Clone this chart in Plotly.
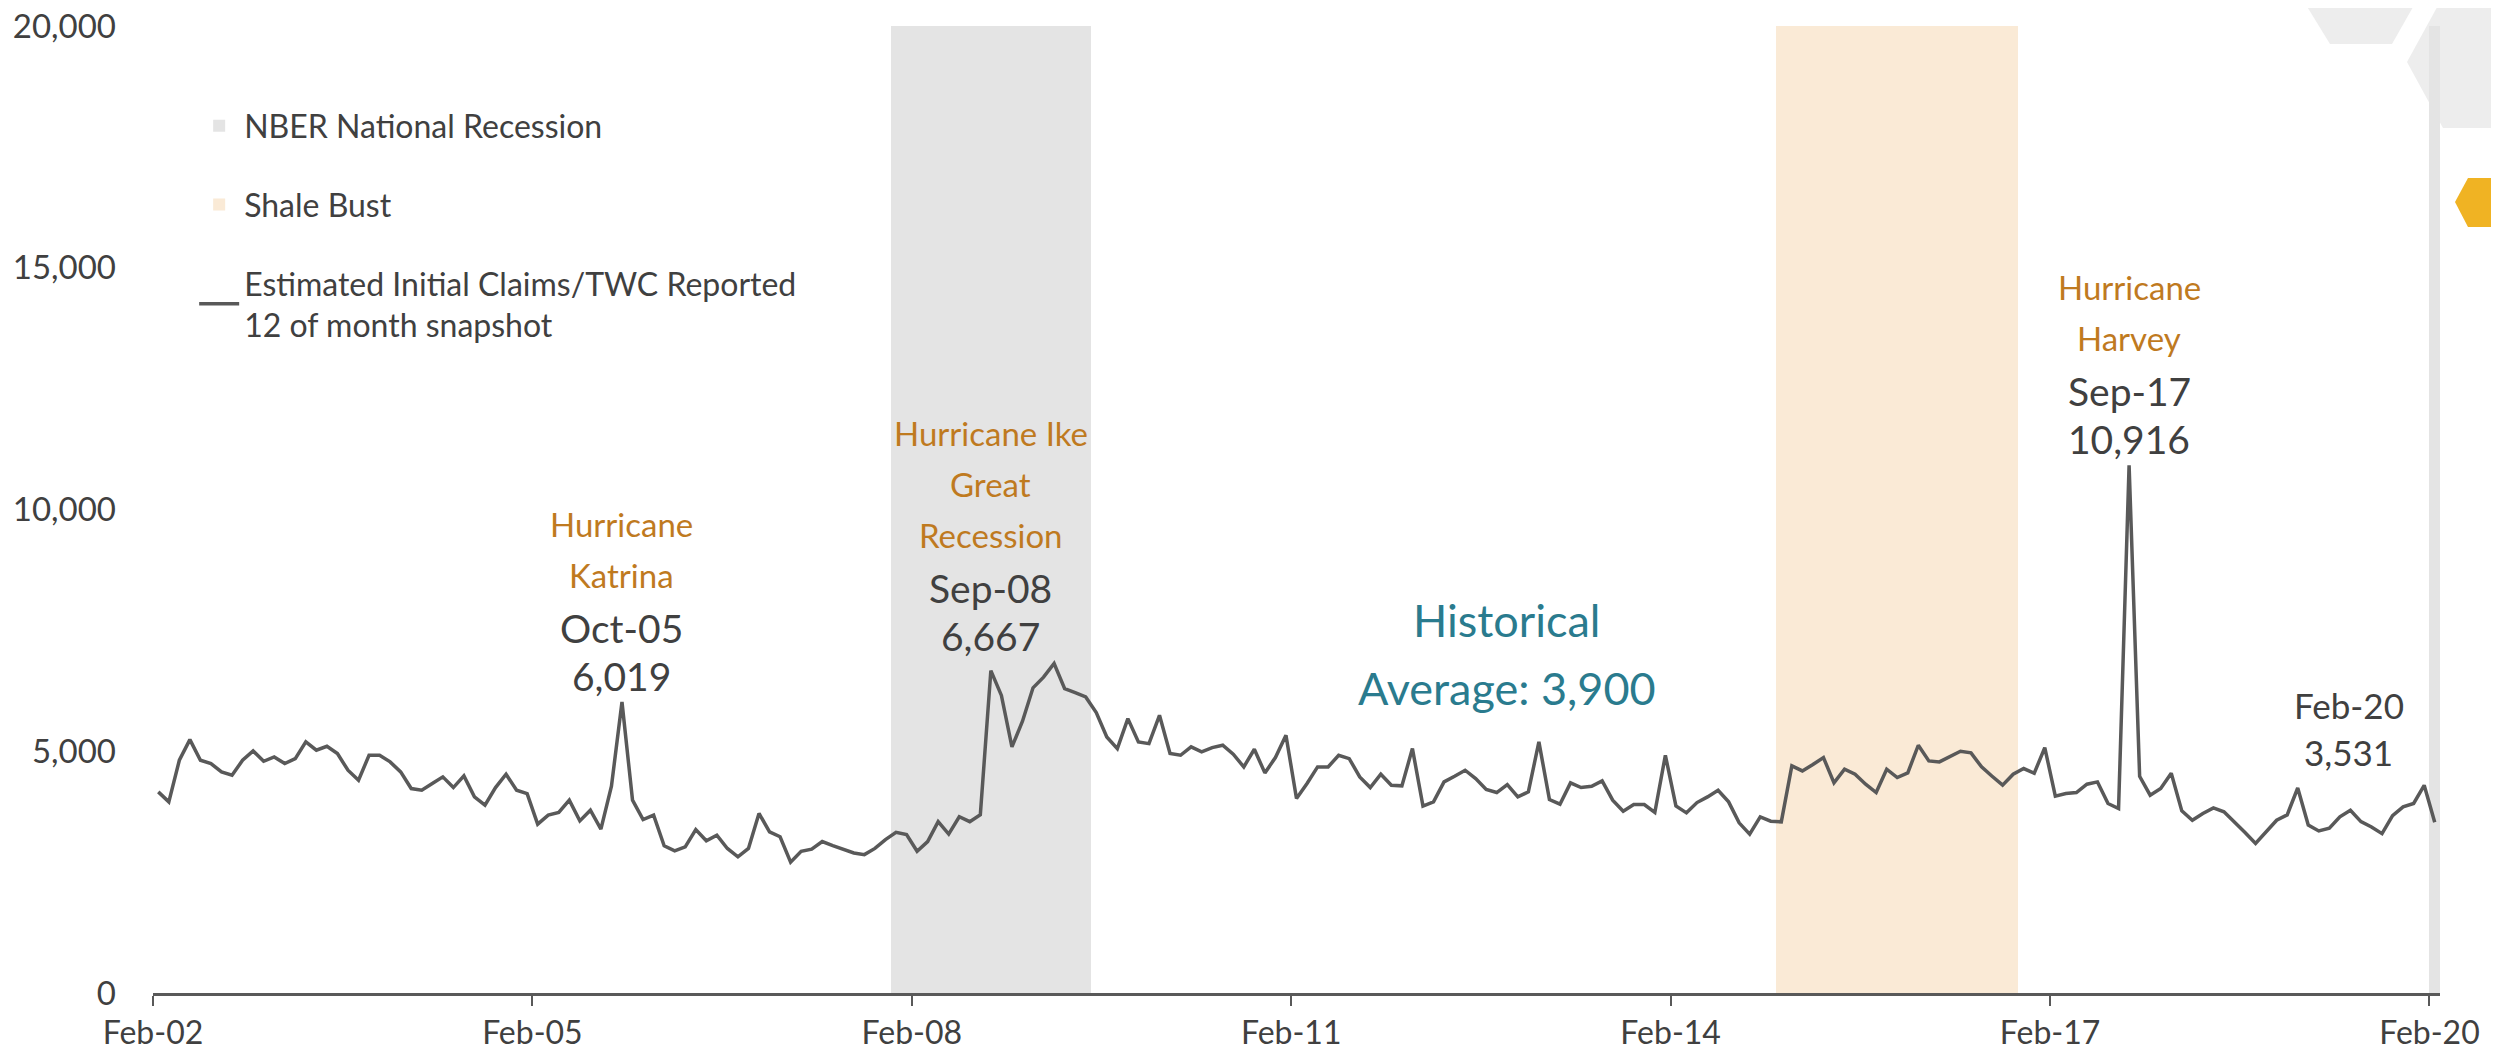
import pandas as pd
import plotly.graph_objects as go

# ---------------- data ----------------
months = pd.date_range("2002-02-01", "2020-02-01", freq="MS")
month_labels = [d.strftime("%b-%y") for d in months]

claims = [
    4160, 3953, 4814, 5241, 4814, 4745, 4573, 4504, 4814, 5007, 4793, 4883,
    4745, 4848, 5193, 5021, 5103, 4952, 4607, 4401, 4917, 4917, 4780, 4573,
    4229, 4194, 4332, 4470, 4249, 4490, 4056, 3884, 4249, 4525, 4194, 4125,
    3492, 3678, 3733, 3988, 3560, 3781, 3388, 4277, 6019, 3988, 3588, 3678,
    3044, 2941, 3024, 3381, 3148, 3264, 2989, 2817, 2989, 3715, 3331, 3231,
    2705, 2932, 2975, 3132, 3046, 2975, 2897, 2862, 2990, 3174, 3324, 3275,
    2932, 3132, 3544, 3287, 3645, 3544, 3686, 6667, 6155, 5089, 5622, 6312,
    6533, 6816, 6295, 6212, 6123, 5799, 5296, 5055, 5675, 5193, 5158, 5744,
    4952, 4917, 5090, 4986, 5076, 5124, 4938, 4676, 5041, 4552, 4869, 5331,
    4022, 4332, 4676, 4676, 4917, 4848, 4470, 4249, 4525, 4298, 4284, 5055,
    3864, 3953, 4366, 4483, 4607, 4435, 4208, 4146, 4311, 4056, 4160, 5193,
    4001, 3905, 4346, 4249, 4277, 4387, 3988, 3760, 3898, 3898, 3733, 4917,
    3870, 3726, 3939, 4056, 4194, 3953, 3519, 3285, 3643, 3554, 3540, 4697,
    4593, 4725, 4869, 4346, 4628, 4525, 4318, 4146, 4628, 4456, 4552, 5124,
    4800, 4780, 4883, 5000, 4966, 4676, 4483, 4298, 4525, 4642, 4545, 5076,
    4070, 4125, 4146, 4318, 4366, 3919, 3815, 10916, 4483, 4091, 4229, 4545,
    3767, 3574, 3712, 3829, 3747, 3540, 3320, 3092, 3323, 3573, 3684, 4240,
    3475, 3351, 3407, 3643, 3781, 3545, 3434, 3296, 3669, 3851, 3921, 4295,
    3531,
]

nber_periods = [("Dec-07", "Jun-09"), ("Feb-20", "Feb-20")]
shale_periods = [("Dec-14", "Oct-16")]
tick_labels = ["Feb-02", "Feb-05", "Feb-08", "Feb-11", "Feb-14", "Feb-17", "Feb-20"]
y_ticks = [0, 5000, 10000, 15000, 20000]
y_max = 20000

callouts = [
    ("Oct-05", ["Hurricane", "Katrina"]),
    ("Sep-08", ["Hurricane Ike", "Great", "Recession"]),
    ("Sep-17", ["Hurricane", "Harvey"]),
]
last_label = "Feb-20"
avg_text = ["Historical", "Average: 3,900"]

# ---------------- styling ----------------
FONT = "Lato"
DARK = "#404040"
LINE = "#595959"
ORANGE = "#BF7A1F"
TEAL = "#2A7B8E"
GRAY_BAND = "#E4E4E4"
SHALE_BAND = "#FAEAD6"

# the page body has an 8px default margin; size the figure to fit the window
PAGE_OFF = 8
WIN_W, WIN_H = 2499, 1054
L, W, T, H = 153, 2287, 26, 967          # plot area in window pixels
FIG_W, FIG_H = WIN_W - PAGE_OFF, WIN_H - PAGE_OFF
extra_lift = {"Sep-08": 9}               # label placement tweak (pixels)

idx = {lab: i for i, lab in enumerate(month_labels)}
x = list(range(len(month_labels)))


def expand(periods):
    out = []
    for a, b in periods:
        out.extend(range(idx[a], idx[b] + 1))
    return out


nber_x = expand(nber_periods)
shale_x = expand(shale_periods)

fig = go.Figure()
fig.add_trace(go.Bar(
    x=nber_x, y=[y_max] * len(nber_x), width=1.0,
    marker=dict(color=GRAY_BAND, line=dict(width=0)),
    name="NBER National Recession", legendgroup="a",
))
fig.add_trace(go.Bar(
    x=shale_x, y=[y_max] * len(shale_x), width=1.0,
    marker=dict(color=SHALE_BAND, line=dict(width=0)),
    name="Shale Bust", legendgroup="b",
))
fig.add_trace(go.Scatter(
    x=x, y=claims, mode="lines",
    line=dict(color=LINE, width=3.5),
    name="Estimated Initial Claims/TWC Reported<br>12 of month snapshot",
    legendgroup="c",
))


def add_line(i, text, shift, color, size, xshift=0):
    fig.add_annotation(
        x=i, y=claims[i], xref="x", yref="y", text=text, showarrow=False,
        xanchor="center", yanchor="middle", yshift=shift, xshift=xshift,
        font=dict(family=FONT, size=size, color=color),
    )


# peak callouts: value, date, then orange caption lines stacked above
for lab, title_lines in callouts:
    i = idx[lab]
    base = extra_lift.get(lab, 0)
    add_line(i, f"{claims[i]:,}", base + 26, DARK, 39)
    add_line(i, lab, base + 74, DARK, 39)
    for k, t in enumerate(reversed(title_lines)):
        add_line(i, t, base + 127 + 51 * k, ORANGE, 33)

# latest value callout
i_last = idx[last_label]
add_line(i_last, f"{claims[i_last]:,}", 70, DARK, 35, xshift=-86)
add_line(i_last, last_label, 117, DARK, 35, xshift=-86)

# historical average text
for k, t in enumerate(avg_text):
    fig.add_annotation(
        x=0.592, y=0.386 - 0.071 * k, xref="paper", yref="paper",
        text=t, showarrow=False, xanchor="center", yanchor="middle",
        font=dict(family=FONT, size=45, color=TEAL),
    )


# decorative slide shapes (top right), window pixel -> paper helpers
def px(p):
    return (p - L) / W


def py(p):
    return 1 - (p - T) / H


def poly(points):
    return "M " + " L ".join(f"{px(a):.5f},{py(b):.5f}" for a, b in points) + " Z"


fig.add_shape(type="path", xref="paper", yref="paper", layer="below",
              path=poly([(2303, 0), (2417, 0), (2392, 44), (2330, 44)]),
              fillcolor="#EDEDED", line=dict(width=0))
fig.add_shape(type="path", xref="paper", yref="paper", layer="below",
              path=poly([(2441, 0), (2499, 0), (2499, 128), (2443, 128), (2407, 62)]),
              fillcolor="#EDEDED", line=dict(width=0))
fig.add_shape(type="path", xref="paper", yref="paper", layer="above",
              path=poly([(2455, 202), (2468, 178), (2499, 178), (2499, 227), (2468, 227)]),
              fillcolor="#F0B323", line=dict(width=0))

tickvals = [idx[t] - 0.5 for t in tick_labels]

fig.update_layout(
    width=FIG_W, height=FIG_H,
    margin=dict(l=L - PAGE_OFF, r=WIN_W - L - W, t=T - PAGE_OFF,
                b=WIN_H - T - H, autoexpand=False),
    paper_bgcolor="white", plot_bgcolor="rgba(0,0,0,0)",
    bargap=0, barmode="overlay",
    font=dict(family=FONT, size=30, color=DARK),
    showlegend=True,
    legend=dict(
        x=0.018, y=0.925, xanchor="left", yanchor="top",
        bgcolor="rgba(0,0,0,0)", font=dict(family=FONT, size=32, color=DARK),
        traceorder="grouped", tracegroupgap=34, itemwidth=40,
    ),
    xaxis=dict(
        range=[-0.5, len(x) - 0.5], automargin=False,
        tickmode="array", tickvals=tickvals, ticktext=tick_labels,
        showgrid=False, zeroline=False,
        showline=True, linecolor=LINE, linewidth=2.5,
        ticks="outside", ticklen=10, tickwidth=1.5, tickcolor=LINE,
        tickfont=dict(family=FONT, size=32, color=DARK),
        ticklabelstandoff=0, ticklabeloverflow="allow",
    ),
    yaxis=dict(
        range=[0, y_max], automargin=False,
        tickmode="array", tickvals=y_ticks, tickformat=",",
        showgrid=False, zeroline=False, showline=False,
        ticks="", tickfont=dict(family=FONT, size=33, color=DARK),
        ticklabelstandoff=36, ticklabeloverflow="allow",
    ),
)

fig.write_html("out.html")
